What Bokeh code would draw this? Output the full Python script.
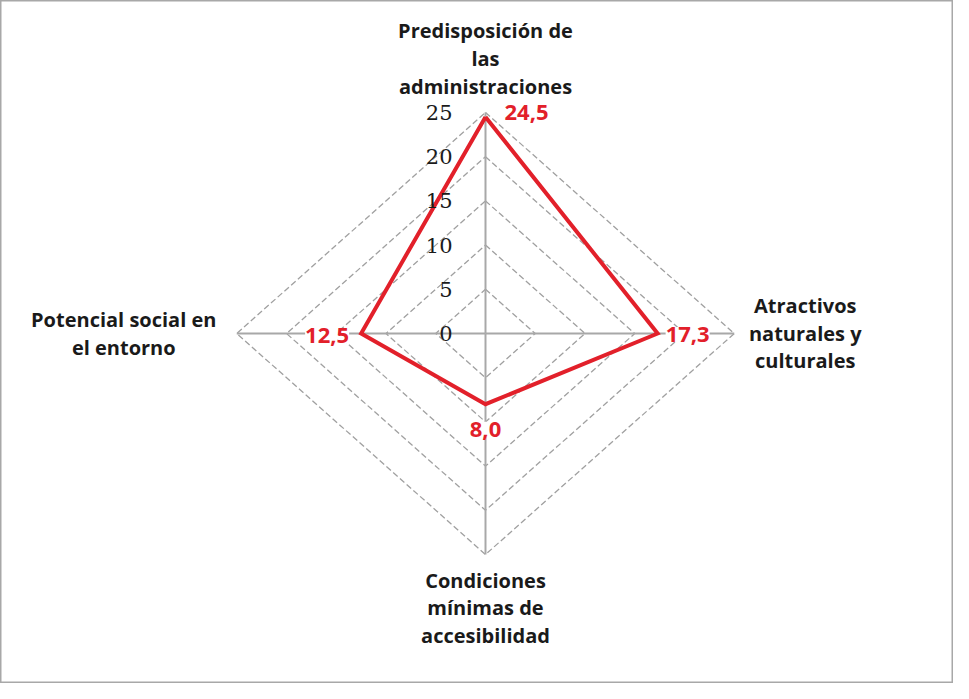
import math
from bokeh.plotting import figure
from bokeh.models import Range1d
from bokeh.core.properties import value
from bokeh.embed import file_html
from bokeh.resources import INLINE

# ---- data ----
categories = [
    ["Predisposición de", "las", "administraciones"],
    ["Atractivos", "naturales y", "culturales"],
    ["Condiciones", "mínimas de", "accesibilidad"],
    ["Potencial social en", "el entorno"],
]
values = [24.5, 17.3, 8.0, 12.5]
ticks = [0, 5, 10, 15, 20, 25]
r_max = 25

RED = "#E2202A"
GRID = "#A0A0A0"
AXIS = "#A8A8A8"

W, H = 953, 683
cx_px, cy_px = 485, 333
sx, sy = 9.95, 8.84

p = figure(width=W, height=H, output_backend="svg", toolbar_location=None,
           x_range=Range1d(-cx_px / sx, (W - cx_px) / sx),
           y_range=Range1d(-(H - cy_px) / sy, cy_px / sy),
           min_border=0, tools="")
p.xaxis.visible = False
p.yaxis.visible = False
p.grid.visible = False
p.outline_line_color = "#A8A8A8"
p.outline_line_width = 2
p.background_fill_color = "white"
p.border_fill_color = "white"

n = len(values)
angles = [math.pi / 2 - i * 2 * math.pi / n for i in range(n)]
dirs = [(round(math.cos(a), 10), round(math.sin(a), 10)) for a in angles]

# grid diamonds
gx, gy = [], []
for t in ticks[1:]:
    xs = [t * d[0] for d in dirs] + [t * dirs[0][0]]
    ys = [t * d[1] for d in dirs] + [t * dirs[0][1]]
    gx.append(xs)
    gy.append(ys)
p.multi_line(gx, gy, line_color=GRID, line_width=1.3, line_dash="6 3")

# spokes
p.multi_line([[0, r_max * d[0]] for d in dirs], [[0, r_max * d[1]] for d in dirs],
             line_color=AXIS, line_width=2)

# data polygon
px = [v * d[0] for v, d in zip(values, dirs)]
py = [v * d[1] for v, d in zip(values, dirs)]
p.line(px + [px[0]], py + [py[0]], line_color=RED, line_width=4, line_join="miter")

# tick labels
p.text(x=[0] * len(ticks), y=ticks, text=[str(t) for t in ticks],
       x_offset=-33, text_align="right", text_baseline="middle",
       text_font=value("DejaVu Serif"), text_font_size="21px", text_color="#1a1a1a")

# data labels
lab = [f"{v:.1f}".replace(".", ",") for v in values]
lab_xoff = [19, 8, 0, -12]
lab_yoff = [-4, 1, 25, 2]
lab_align = ["left", "left", "center", "right"]
for i in range(n):
    p.text(x=[px[i]], y=[py[i]], text=[lab[i]], x_offset=lab_xoff[i], y_offset=lab_yoff[i],
           text_align=lab_align[i], text_baseline="middle",
           text_font=value("Open Sans"), text_font_style="bold", text_font_size="22px",
           text_color=RED, background_fill_color="white")

# category labels
cat_xoff = [0, 71, 0, -113]
cat_lines_yoff = [[-82, -54, -26], [-28, 0, 27], [26, 53, 81], [-14, 14]]
for i in range(n):
    lines = categories[i]
    m = len(lines)
    p.text(x=[r_max * dirs[i][0]] * m, y=[r_max * dirs[i][1]] * m, text=lines,
           x_offset=cat_xoff[i], y_offset=cat_lines_yoff[i],
           text_align="center", text_baseline="middle",
           text_font=value("Open Sans"), text_font_style="bold", text_font_size="20px",
           text_color="#1a1a1a")

open("out.html", "w").write(file_html(p, INLINE))
